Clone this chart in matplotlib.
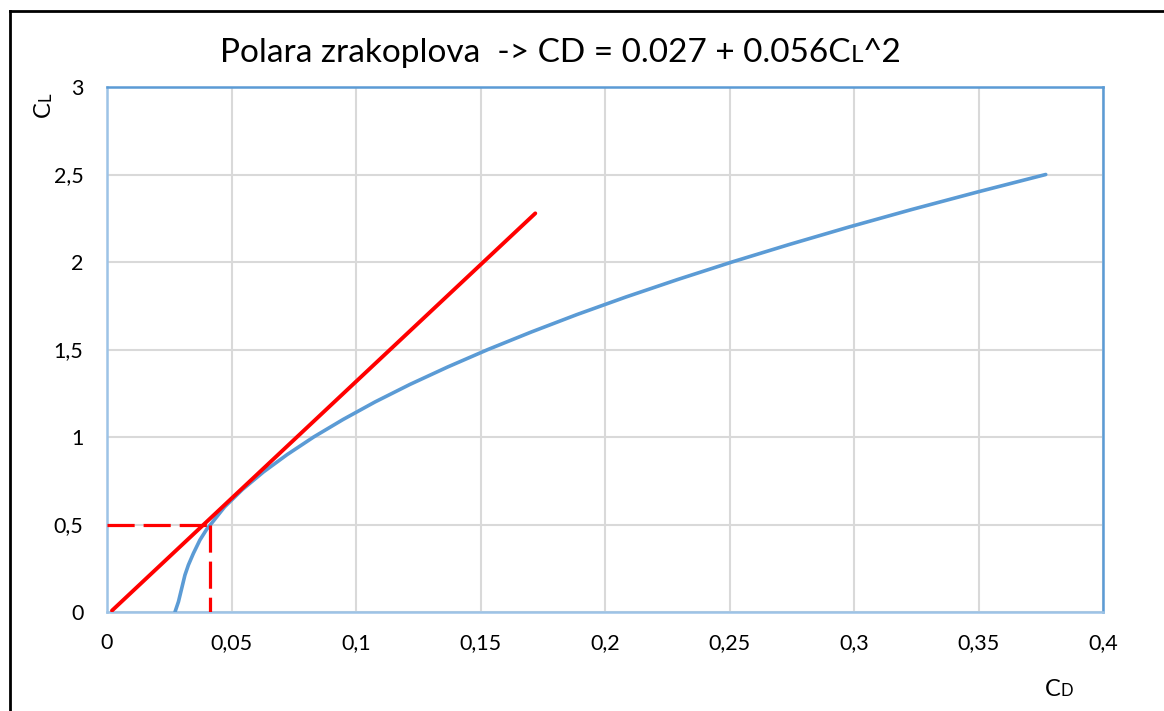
import matplotlib
matplotlib.use('Agg')
import matplotlib.pyplot as plt
from matplotlib.lines import Line2D
from matplotlib.ticker import FuncFormatter

plt.rcParams['font.family'] = ['Lato', 'DejaVu Sans']

# polar (smoothed Excel line)
cl_polar = [0.0, 0.059, 0.135, 0.211, 0.269, 0.335, 0.411, 0.472, 0.507,
            0.6, 0.7, 0.8, 0.9, 1.0, 1.1, 1.2, 1.3, 1.4, 1.5, 1.6, 1.7,
            1.8, 1.9, 2.0, 2.1, 2.2, 2.3, 2.4, 2.5]
cd_polar = [0.0273, 0.0287, 0.0300, 0.0313, 0.0327, 0.0347, 0.0373, 0.0400, 0.0420,
            0.0472, 0.0544, 0.0628, 0.0724, 0.083, 0.0948, 0.1076, 0.1216, 0.1368, 0.153,
            0.1704, 0.1888, 0.2084, 0.2292, 0.251, 0.274, 0.298, 0.3232, 0.3496, 0.377]

# tangent from origin
cd_tangent = [0.002, 0.172]
cl_tangent = [0.008, 2.278]

# marked point
cd_point = 0.0414
cl_point = 0.5

blue = '#5B9BD5'
red = '#FF0000'

W, H = 1164, 711
fig = plt.figure(figsize=(W / 100, H / 100), dpi=100)
ax = fig.add_axes([107 / W, 1 - 612 / H, (1103 - 107) / W, (612 - 87) / H])

ax.plot(cd_polar, cl_polar, color=blue, lw=2.6, solid_capstyle='round', zorder=3)
ax.plot(cd_tangent, cl_tangent, color=red, lw=2.8, solid_capstyle='round', zorder=4)
ax.plot([0, cd_point], [cl_point, cl_point], color=red, lw=2.3,
        linestyle=(0, (8.5, 2.8)), zorder=4)
ax.plot([cd_point, cd_point], [cl_point, 0], color=red, lw=2.3,
        linestyle=(0, (8.5, 2.8)), zorder=4)

ax.set_xlim(0, 0.4)
ax.set_ylim(0, 3)
ax.set_xticks([0, 0.05, 0.1, 0.15, 0.2, 0.25, 0.3, 0.35, 0.4])
ax.set_yticks([0, 0.5, 1, 1.5, 2, 2.5, 3])

def comma(v, pos):
    s = ('%.2f' % v).rstrip('0').rstrip('.')
    return s.replace('.', ',')

ax.xaxis.set_major_formatter(FuncFormatter(comma))
ax.yaxis.set_major_formatter(FuncFormatter(comma))
ax.tick_params(length=0, labelsize=15.5, labelcolor='black')
ax.tick_params(axis='x', pad=15)
ax.tick_params(axis='y', pad=17)
ax.grid(color='#D9D9D9', lw=1.5)
ax.set_axisbelow(True)
for side in ['top', 'right']:
    ax.spines[side].set_color(blue)
    ax.spines[side].set_linewidth(1.8)
for side in ['left', 'bottom']:
    ax.spines[side].set_color('#9DC3E6')
    ax.spines[side].set_linewidth(1.8)

# outer frame (right and bottom run off the image)
fig.add_artist(Line2D([10 / W, 10 / W], [0, 1 - 10.5 / H], color='black', lw=2))
fig.add_artist(Line2D([10 / W, 1], [1 - 10.5 / H, 1 - 10.5 / H], color='black', lw=2))

renderer = fig.canvas.get_renderer()

def run_text(x, y, parts, rotation=0):
    # parts: list of (string, size); placed one after another from pixel x, y (baseline)
    for s, size in parts:
        t = fig.text(x / W, y / H, s, fontsize=size, ha='left', va='baseline',
                     rotation=rotation, rotation_mode='anchor')
        bb = t.get_window_extent(renderer)
        if rotation == 90:
            y += bb.height
        else:
            x += bb.width

run_text(220, H - 62, [('Polara zrakoplova  -> CD = 0.027 + 0.056C', 24),
                       ('L', 17.5), ('^2', 24)])
run_text(1045, H - 696.5, [('C', 17), ('D', 12)])
run_text(50, H - 117, [('C', 17), ('L', 12)], rotation=90)

fig.savefig('out.png', dpi=100)
